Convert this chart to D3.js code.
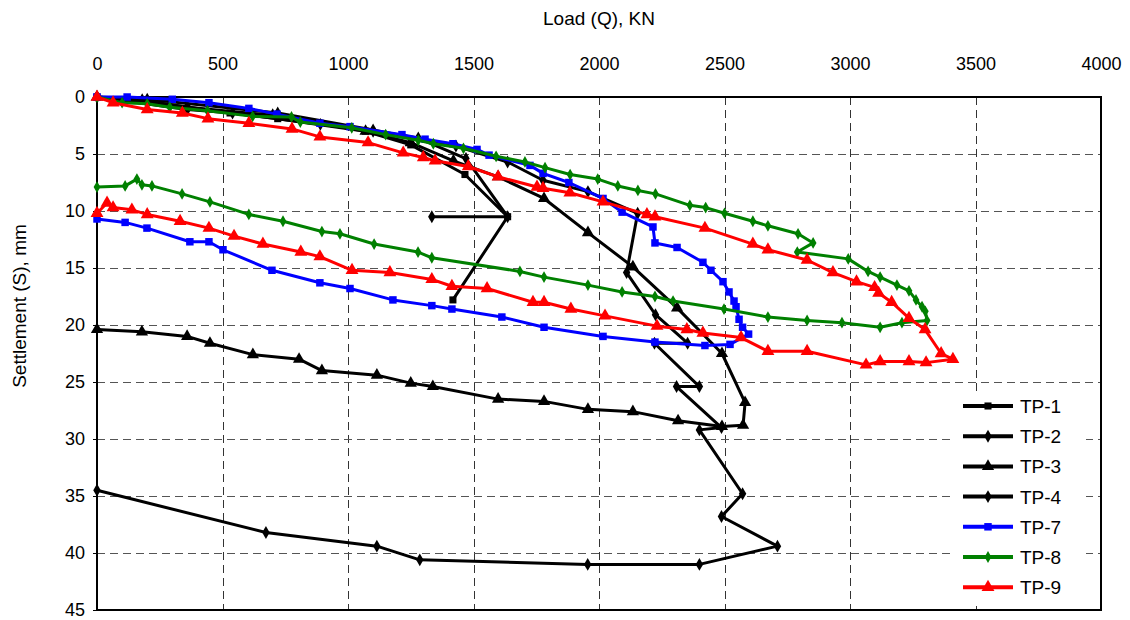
<!DOCTYPE html>
<html>
  <head>
    <meta charset="utf-8">
    <title>Load - settlement curves</title>
    <script src="https://d3js.org/d3.v7.min.js"></script>
    <style>
      body { margin: 0; background: #fff; font-family: "Liberation Sans", Arial, sans-serif; }
      .tick text { font-size: 18px; fill: #000; }
    </style>
  </head>
  <body>
    <script>
      // load (kN) / settlement (mm) pairs
      var tp1 = [[0,0],[175,0.3],[530,1.4],[720,1.9],[1070,3.0],[1250,4.2],[1466,6.8],[1636,10.5],[1418,17.8]];
      var tp2 = [[0,0],[360,1.1],[540,1.4],[890,2.4],[1100,3.0],[1280,3.6],[1470,5.4],[1636,10.5],[1334,10.5]];
      var tp3 = [[0,0],[180,0.3],[360,0.9],[700,1.6],[1070,3.0],[1250,4.0],[1420,5.6],[1598,7.0],[1781,8.9],[1956,11.9],
                 [2135,14.9],[2311,18.5],[2490,22.5],[2582,26.8],[2574,28.8],[2490,28.9],[2315,28.4],[2135,27.6],
                 [1956,27.4],[1781,26.7],[1598,26.5],[1338,25.4],[1250,25.1],[1115,24.4],[896,24.0],[805,23.0],
                 [621,22.6],[450,21.6],[359,21.0],[179,20.6],[0,20.4]];
      var tp4 = [[0,0],[200,0.2],[720,1.4],[1100,2.9],[1430,4.3],[1636,5.7],[1777,7.3],[1956,8.3],[2154,10.2],
                 [2110,15.4],[2225,19.1],[2353,21.6],[2221,21.6],[2400,25.4],[2309,25.4],[2488,29.0],[2400,29.2],
                 [2572,34.8],[2488,36.8],[2711,39.4],[2400,41.0],[1955,41.0],[1286,40.6],[1115,39.4],[673,38.2],[0,34.5]];
      var tp7 = [[0,0],[120,0.0],[300,0.2],[446,0.5],[605,1.0],[717,1.5],[888,2.3],[1008,2.6],[1215,3.3],[1307,3.7],
                 [1418,4.1],[1514,4.6],[1562,5.1],[1725,6.0],[1777,6.7],[1880,7.5],[2016,8.9],[2092,10.1],[2215,11.4],
                 [2223,12.8],[2311,13.2],[2414,14.5],[2446,15.2],[2494,16.2],[2518,17.1],[2538,17.9],[2546,18.4],
                 [2558,19.5],[2572,20.2],[2596,20.8],[2522,21.7],[2422,21.8],[2223,21.5],[2016,21.0],[1781,20.2],
                 [1613,19.3],[1414,18.6],[1334,18.3],[1179,17.8],[1008,16.8],[888,16.3],[697,15.2],[502,13.4],
                 [446,12.7],[370,12.7],[199,11.5],[112,11.0],[0,10.7]];
      var tp8 = [[0,0],[100,0.5],[200,0.6],[290,0.9],[440,1.2],[620,1.7],[775,1.75],[810,2.2],[1015,2.7],[1150,3.3],
                 [1280,3.8],[1340,4.1],[1460,4.5],[1590,5.2],[1705,5.7],[1785,6.2],[1885,6.8],[1995,7.2],[2075,7.8],
                 [2155,8.2],[2225,8.5],[2362,9.5],[2425,9.7],[2500,10.2],[2613,10.9],[2673,11.3],[2793,12.0],
                 [2853,12.8],[2790,13.6],[2993,14.2],[3072,15.3],[3120,15.8],[3187,16.5],[3235,17.0],[3263,17.8],
                 [3287,18.4],[3300,18.8],[3307,19.6],[3207,19.8],[3120,20.2],[2968,19.8],[2829,19.6],[2673,19.3],
                 [2498,18.6],[2295,17.9],[2223,17.5],[2092,17.1],[1956,16.5],[1781,15.8],[1685,15.3],[1334,14.1],
                 [1279,13.6],[1104,12.9],[968,12.0],[896,11.8],[741,10.9],[605,10.3],[450,9.2],[339,8.5],
                 [219,7.8],[179,7.7],[159,7.2],[112,7.8],[0,7.9]];
      var tp9 = [[0,0],[64,0.5],[200,1.1],[340,1.4],[442,1.9],[605,2.3],[777,2.8],[888,3.5],[1080,4.0],[1220,4.9],
                 [1300,5.3],[1347,5.6],[1479,6.1],[1598,7.0],[1753,7.9],[1777,8.0],[1884,8.4],[2016,9.2],[2191,10.3],
                 [2223,10.5],[2422,11.5],[2613,12.9],[2673,13.4],[2829,14.3],[2932,15.4],[3026,16.2],[3098,16.7],
                 [3114,17.2],[3166,18.0],[3235,19.4],[3299,20.4],[3363,22.5],[3410,23.0],[3303,23.3],[3235,23.2],
                 [3120,23.2],[3064,23.5],[2829,22.3],[2673,22.3],[2566,21.1],[2414,20.7],[2350,20.4],[2231,20.1],
                 [2024,19.2],[1888,18.6],[1781,18.0],[1737,18.0],[1554,16.8],[1414,16.6],[1334,16.0],[1167,15.4],
                 [1016,15.2],[888,14.0],[812,13.6],[661,12.9],[546,12.2],[446,11.5],[331,10.9],[200,10.3],
                 [139,9.9],[64,9.7],[40,9.3],[0,10.2]];

      var seriesNames = ["TP-1", "TP-2", "TP-3", "TP-4", "TP-7", "TP-8", "TP-9"];
      var seriesData = [tp1, tp2, tp3, tp4, tp7, tp8, tp9];
      var seriesColors = ["#000", "#000", "#000", "#000", "#0000ff", "#008000", "#ff0000"];
      var seriesShapes = [d3.symbolSquare, d3.symbolDiamond, d3.symbolTriangle, d3.symbolDiamond,
                          d3.symbolSquare, d3.symbolDiamond, d3.symbolTriangle];
      var seriesSizes = [50, 48, 65, 48, 56, 40, 72];

      var xTicks = [0, 500, 1000, 1500, 2000, 2500, 3000, 3500, 4000];
      var yTicks = [0, 5, 10, 15, 20, 25, 30, 35, 40, 45];

      var chartWidth = 1130, chartHeight = 620;
      var plotLeft = 97, plotRight = 1101, plotTop = 97, plotBottom = 610;

      var svg = d3.select("body").append("svg")
        .attr("width", chartWidth)
        .attr("height", chartHeight);

      var x = d3.scaleLinear().domain([0, 4000]).range([plotLeft, plotRight]);
      var y = d3.scaleLinear().domain([0, 45]).range([plotTop, plotBottom]);

      // dashed grid
      var grid = svg.append("g");
      grid.selectAll("line.v")
        .data(xTicks.slice(1, -1))
        .enter().append("line")
          .attr("x1", function(d) { return Math.round(x(d)) + 0.5; })
          .attr("x2", function(d) { return Math.round(x(d)) + 0.5; })
          .attr("y1", plotTop).attr("y2", plotBottom)
          .attr("stroke", "#333").attr("stroke-width", 1)
          .attr("stroke-dasharray", "8,5");
      grid.selectAll("line.h")
        .data(yTicks.slice(1, -1))
        .enter().append("line")
          .attr("y1", function(d) { return Math.round(y(d)) + 0.5; })
          .attr("y2", function(d) { return Math.round(y(d)) + 0.5; })
          .attr("x1", plotLeft).attr("x2", plotRight)
          .attr("stroke", "#555").attr("stroke-width", 1)
          .attr("stroke-dasharray", "8,5");

      // axes (top and left), box border
      var xAxis = svg.append("g")
        .attr("transform", "translate(0," + plotTop + ")")
        .call(d3.axisTop(x).tickValues(xTicks).tickFormat(d3.format("d")).tickSize(0).tickPadding(27));
      var yAxis = svg.append("g")
        .attr("transform", "translate(" + plotLeft + ",0)")
        .call(d3.axisLeft(y).tickValues(yTicks).tickFormat(d3.format("d")).tickSize(4).tickPadding(8));
      [xAxis, yAxis].forEach(function(a) {
        a.select(".domain").remove();
        a.selectAll("text").attr("font-family", "Liberation Sans, Arial, sans-serif");
      });
      yAxis.selectAll("line").attr("stroke", "#000");

      svg.append("rect")
        .attr("x", plotLeft).attr("y", plotTop)
        .attr("width", plotRight - plotLeft).attr("height", plotBottom - plotTop)
        .attr("fill", "none").attr("stroke", "#000").attr("stroke-width", 2);

      // titles
      svg.append("text")
        .attr("x", 599).attr("y", 25)
        .attr("text-anchor", "middle")
        .style("font-size", "19px")
        .text("Load (Q), KN");
      svg.append("text")
        .attr("transform", "translate(26,306) rotate(-90)")
        .attr("text-anchor", "middle")
        .style("font-size", "19px")
        .text("Settlement (S), mm");

      // series
      var line = d3.line()
        .x(function(d) { return x(d[0]); })
        .y(function(d) { return y(d[1]); });

      seriesData.forEach(function(data, i) {
        var g = svg.append("g");
        g.append("path")
          .datum(data)
          .attr("d", line)
          .attr("fill", "none")
          .attr("stroke", seriesColors[i])
          .attr("stroke-width", 3)
          .attr("stroke-linejoin", "round");
        g.selectAll("path.m")
          .data(data)
          .enter().append("path")
            .attr("transform", function(d) { return "translate(" + x(d[0]) + "," + y(d[1]) + ")"; })
            .attr("d", d3.symbol().type(seriesShapes[i]).size(seriesSizes[i]))
            .attr("fill", seriesColors[i]);
      });

      // legend
      var legend = svg.append("g");
      legend.append("rect")
        .attr("x", 952).attr("y", 392)
        .attr("width", 134).attr("height", 214)
        .attr("fill", "#fff");
      var rows = legend.selectAll("g.row")
        .data(seriesNames)
        .enter().append("g")
          .attr("transform", function(d, i) { return "translate(963," + (406 + i * 30.2) + ")"; });
      rows.append("line")
        .attr("x1", 0).attr("x2", 50)
        .attr("stroke", function(d, i) { return seriesColors[i]; })
        .attr("stroke-width", 4);
      rows.append("path")
        .attr("transform", "translate(25,0)")
        .attr("d", function(d, i) { return d3.symbol().type(seriesShapes[i]).size(seriesSizes[i])(); })
        .attr("fill", function(d, i) { return seriesColors[i]; });
      rows.append("text")
        .attr("x", 57).attr("y", 7)
        .style("font-size", "19px")
        .text(function(d) { return d; });
    </script>
  </body>
</html>
